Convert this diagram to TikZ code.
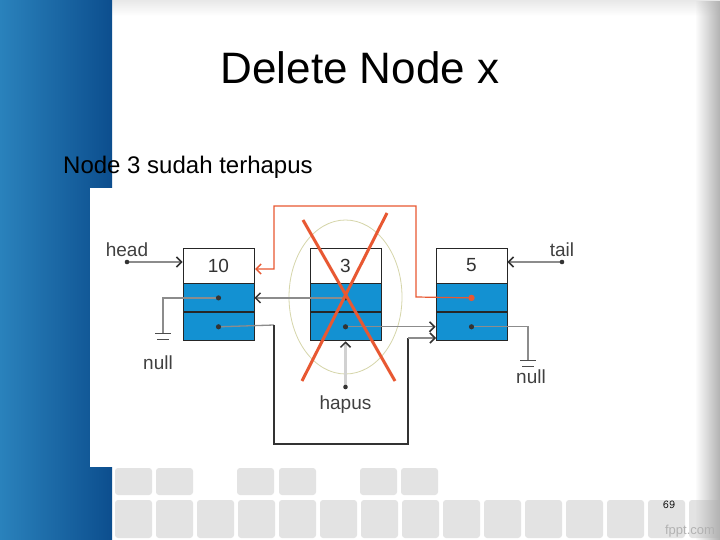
\documentclass[tikz,border=0pt]{standalone}
\usepackage{fontspec}
\setmainfont{Liberation Sans}
\usepackage{tikz}
\usetikzlibrary{positioning,arrows.meta,fadings}
\definecolor{boxblue}{RGB}{19,145,210}
\definecolor{xred}{RGB}{232,88,50}
\definecolor{stripL}{RGB}{42,130,188}
\definecolor{stripR}{RGB}{12,78,142}
\definecolor{ring}{RGB}{214,214,170}

\begin{document}
\begin{tikzpicture}[x=1pt,y=-1pt,
    dat/.style={rectangle,draw=black!85,fill=white,line width=0.9pt,minimum width=71pt,
      minimum height=35pt,inner sep=0pt,font=\fontsize{19}{19}\selectfont,text=black!80},
    fld/.style={rectangle,draw=black!85,fill=boxblue,line width=0.9pt,minimum width=71pt,
      minimum height=28pt,inner sep=0pt},
    lbl/.style={anchor=base,inner sep=0pt,font=\fontsize{19}{19}\selectfont,text=black!75},
    ln/.style={draw=black!45,line width=1.3pt},
    dk/.style={draw=black!80,line width=1.4pt},
    arr/.style={-{Straight Barb[length=5pt,width=10pt,line width=1.5pt,color=black!80]}},
    arrx/.style={-{Straight Barb[length=5pt,width=10pt,line width=1.5pt,color=xred]}},
    tile/.style={fill=black!11,rounded corners=3pt}]
    \useasboundingbox (0,0) rectangle (720,540);
    % slide background
    \fill[white] (0,0) rectangle (720,540);
    \shade[top color=black!9,bottom color=white] (0,0) rectangle (720,16);
    \shade[left color=stripL,right color=stripR] (0,0) rectangle (112,540);
    \foreach \tx in {115,156,237,279,360,401}
      \fill[tile] (\tx,468) rectangle ++(37,27);
    \foreach \i in {0,...,14}
      \fill[tile] (115+41*\i,500) rectangle ++(37,38);
    \fill[black!30,path fading=west] (695,0) rectangle (720,540);
    \node[anchor=base,font=\fontsize{44}{44}\selectfont] (title) at (360,84) {Delete Node x};
    \node[anchor=base west,inner sep=0pt,font=\fontsize{24}{24}\selectfont] (sub) at (63,174) {Node 3 sudah terhapus};
    \node[font=\ttfamily\fontsize{12}{12}\selectfont] (pg) at (669,505) {69};
    \node[text=black!30,font=\fontsize{13}{13}\selectfont] (logo) at (690,531) {fppt.com};
    % diagram
    \fill[white] (90,188) rectangle (440,467);
    \draw[draw=ring,line width=0.8pt] (345.5,297) ellipse [x radius=56.5, y radius=77];
    \foreach \k/\cx in {10/218.5,3/345.5,5/471.5} {
      \node[dat] (d\k) at (\cx,265.5) {\k};
      \node[fld,below=0pt of d\k] (p\k) {};
      \node[fld,below=0pt of p\k] (n\k) {};
    }
    \node[lbl] (head) at (127,256) {head};
    \node[lbl] (tail) at (562,256) {tail};
    \node[lbl] (null10) at (158,369) {null};
    \node[lbl] (null5) at (531,383) {null};
    \node[lbl] (hapus) at (345.5,409) {hapus};
    \coordinate (hd) at (127,262);
    \coordinate (td) at (562,262);
    \coordinate (hp) at (345.5,387);
    \coordinate (g10) at (163,333);
    \coordinate (g5) at (528,360);
    \coordinate (r10) at (255,269);
    \coordinate (in5) at (436,338);
    \draw[ln,arr] (hd) -- (hd -| d10.west);
    \draw[ln,arr] (td) -- (td -| d5.east);
    \draw[ln] (p10.center) -| (g10);
    \draw[black!70,line width=1pt] (155,333) -- (171,333) (157,339) -- (169,339);
    \draw[ln] (n5.center) -| (g5);
    \draw[black!70,line width=1pt] (520,360) -- (536,360) (522,366) -- (534,366);
    \draw[ln,arr] (p3.center) -- (p3 -| d10.east);
    \draw[ln,arr] (n3.center) -- (n3 -| n5.west);
    \draw[ln] (n10.center) -- (274,325);
    \draw[dk] (274,325) |- (408,444) -- (408,338);
    \draw[ln,arr] (408,338) -- (in5);
    \draw[draw=xred,line width=1.2pt,arrx] (p5.center) -- (416,297) |- (274,206) |- (r10);
    \draw[draw=black!18,line width=2.4pt,arr] (hp) -- (n3.south);
    \foreach \d in {p10,n10,p3,n3,n5}
      \fill[black!80] (\d.center) circle (2.6);
    \foreach \d in {hd,td,hp}
      \fill[black!80] (\d) circle (2.3);
    \fill[xred] (p5.center) circle (3.2);
    \draw[xred,line width=3pt] (303,220) -- (395,381) (387,213) -- (302,381);
\end{tikzpicture}
\end{document}
